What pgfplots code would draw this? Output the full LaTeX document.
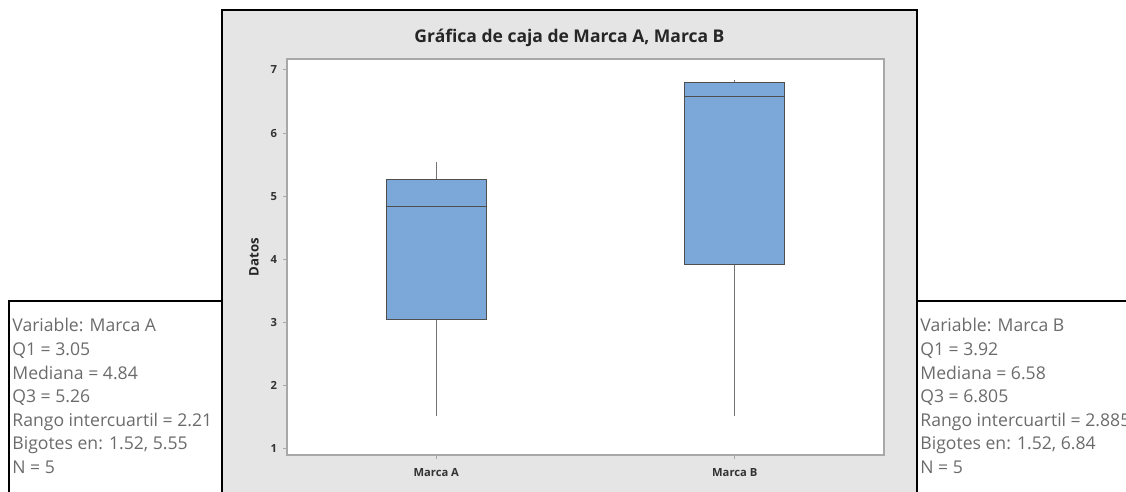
\documentclass[border=0pt]{standalone}
\usepackage{fontspec}
\setmainfont{Open Sans}
\usepackage{pgfplots}
\pgfplotsset{compat=1.18}
\usepgfplotslibrary{statistics}
\definecolor{panelbg}{HTML}{E5E5E5}
\definecolor{boxfill}{HTML}{7BA7D9}
\definecolor{boxedge}{HTML}{4F4F4F}
\definecolor{axisgray}{HTML}{A8A8A8}
\definecolor{infotext}{HTML}{6B6B6B}
\begin{document}
\begin{tikzpicture}[x=0.5pt,y=0.5pt]
\useasboundingbox (0,0) rectangle (1126,492);
\clip (0,0) rectangle (1126,492);
% panel
\fill[panelbg] (222,482) rectangle (917,-10);
\draw[black,line width=1.3pt] (222,-10) -- (222,482) -- (917,482) -- (917,-10);
% info boxes
\draw[black,line width=1pt] (9,-10) -- (9,191) -- (221,191);
\draw[black,line width=1pt] (917,191) -- (1130,191);
% title
\node[font=\fontsize{8.75}{11}\selectfont\bfseries, text=black!85] at (569.5,454) {Gráfica de caja de Marca A, Marca B};
\begin{axis}[
  at={(143.5pt,18.5pt)}, anchor=south west,
  scale only axis, width=298.5pt, height=198pt,
  xmin=0.5, xmax=2.5, ymin=0.905, ymax=7.174,
  axis background/.style={fill=white},
  axis line style={axisgray, line width=0.6pt},
  xtick={1,2}, xticklabels={Marca A, Marca B},
  ytick={1,2,3,4,5,6,7},
  tick align=outside, major tick length=2pt,
  tick style={axisgray, line width=0.5pt},
  xtick pos=bottom, ytick pos=left,
  ticklabel style={font=\fontsize{5.6}{6.5}\selectfont\bfseries, text=black!80},
  yticklabel style={xshift=0.5pt},
  xticklabel style={yshift=-1pt},
  /pgf/number format/assume math mode=true,
  ylabel={Datos},
  ylabel style={at={(axis description cs:-0.0553,0.5)}, anchor=center, font=\fontsize{6.6}{8}\selectfont\bfseries, text=black!85},
]
\addplot+[boxplot/draw direction=y, boxplot/whisker extend=0, boxplot/box extend=0.335,
  boxplot prepared={draw position=1, lower whisker=1.52, lower quartile=3.05, median=4.84, upper quartile=5.26, upper whisker=5.55},
  draw=boxedge, fill=boxfill, line width=0.5pt, mark=none,
  boxplot/every whisker/.style={draw=gray!90!black, line width=0.6pt},
  boxplot/every median/.style={draw=boxedge, line width=0.6pt}]
  coordinates {};
\addplot+[boxplot/draw direction=y, boxplot/whisker extend=0, boxplot/box extend=0.335,
  boxplot prepared={draw position=2, lower whisker=1.52, lower quartile=3.92, median=6.58, upper quartile=6.805, upper whisker=6.84},
  draw=boxedge, fill=boxfill, line width=0.5pt, mark=none,
  boxplot/every whisker/.style={draw=gray!90!black, line width=0.6pt},
  boxplot/every median/.style={draw=boxedge, line width=0.6pt}]
  coordinates {};
\end{axis}
% info text
\begin{scope}[every node/.style={anchor=base west, inner sep=0pt, text=infotext, font=\fontsize{8.8}{10}\selectfont}]
\node at (12,160) {Variable: Marca A};
\node at (12,136.4) {Q1 = 3.05};
\node at (12,112.8) {Mediana = 4.84};
\node at (12,89.2) {Q3 = 5.26};
\node at (12,65.6) {Rango intercuartil = 2.21};
\node at (12,42) {Bigotes en: 1.52, 5.55};
\node at (12,18.4) {N = 5};
\node at (920,160) {Variable: Marca B};
\node at (920,136.4) {Q1 = 3.92};
\node at (920,112.8) {Mediana = 6.58};
\node at (920,89.2) {Q3 = 6.805};
\node at (920,65.6) {Rango intercuartil = 2.885};
\node at (920,42) {Bigotes en: 1.52, 6.84};
\node at (920,18.4) {N = 5};
\end{scope}
\end{tikzpicture}
\end{document}
